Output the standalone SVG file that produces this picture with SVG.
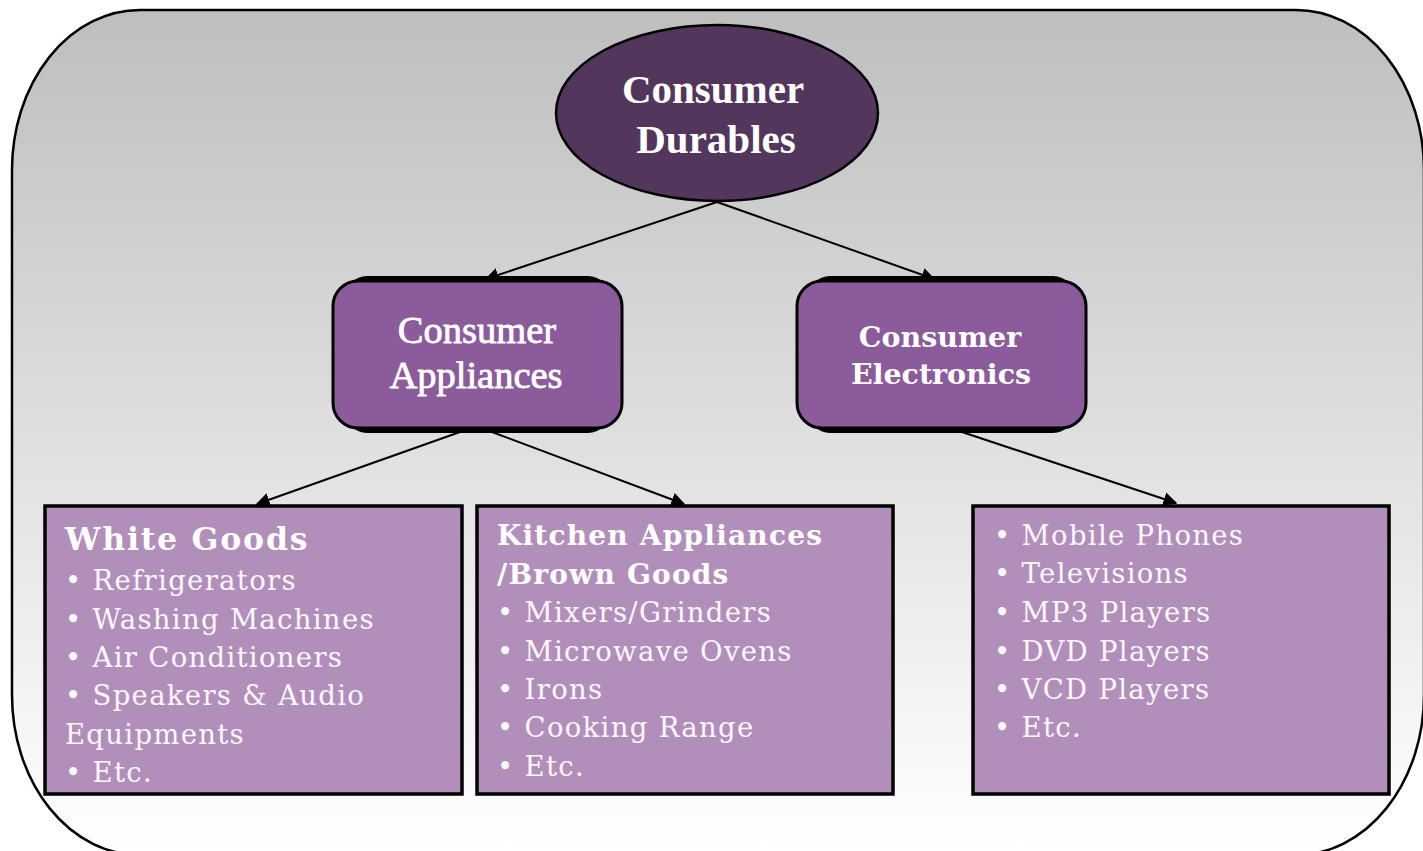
<svg xmlns="http://www.w3.org/2000/svg" width="1423" height="851" viewBox="0 0 1423 851">
<defs>
<linearGradient id="bg" gradientUnits="userSpaceOnUse" x1="0" y1="10" x2="0" y2="851">
<stop offset="0" stop-color="#bebebe"/>
<stop offset="1" stop-color="#ffffff"/>
</linearGradient>
<marker id="arr" viewBox="0 0 10 10" refX="9" refY="5" markerWidth="7" markerHeight="7" markerUnits="strokeWidth" orient="auto">
<path d="M0,0 L10,5 L0,10 z" fill="#000"/>
</marker>
<style>
.conn{stroke:#000;stroke-width:2;fill:none;marker-end:url(#arr)}
.mid{fill:#8c5b9b;stroke:#000;stroke-width:3}
.shadow{fill:#000}
.leaf{fill:#b28fbb;stroke:#000;stroke-width:3.5}
.t1{font-family:"Liberation Serif","Times New Roman",serif;font-weight:bold;font-size:41px;fill:#fff;text-anchor:middle}
.t2{font-family:"Liberation Serif","Times New Roman",serif;font-size:38.5px;fill:#fff;stroke:#fff;stroke-width:0.8px;text-anchor:middle}
.t3{font-family:"DejaVu Serif",serif;font-weight:bold;font-size:28.5px;fill:#fff;text-anchor:middle}
.hd{font-family:"DejaVu Serif",serif;font-weight:bold;fill:#fff}
.li{font-family:"DejaVu Serif",serif;font-size:27.5px;letter-spacing:1.3px;fill:#fbf8fc}
</style>
</defs>
<rect x="0" y="0" width="1423" height="851" fill="#fff"/>
<rect id="frame" x="12" y="10" width="1412" height="845" rx="128" ry="160" fill="url(#bg)" stroke="#000" stroke-width="2.5"/>

<g id="connectors">
<line class="conn" x1="717" y1="202" x2="486" y2="279"/>
<line class="conn" x1="717" y1="202" x2="934" y2="279"/>
<line class="conn" x1="460" y1="432" x2="257" y2="504"/>
<line class="conn" x1="492" y1="432" x2="684" y2="504"/>
<line class="conn" x1="962" y1="432" x2="1176" y2="503"/>
</g>

<g id="consumer-durables">
<ellipse cx="717" cy="113" rx="161" ry="88" fill="#52365b" stroke="#000" stroke-width="2.5"/>
<text class="t1" x="713" y="103">Consumer</text>
<text class="t1" x="716" y="153">Durables</text>
</g>

<g id="consumer-appliances">
<rect class="shadow" x="345" y="276" width="265" height="157" rx="22"/>
<rect class="mid" x="333" y="281" width="289" height="147" rx="25"/>
<text class="t2" x="477" y="343">Consumer</text>
<text class="t2" x="476" y="388">Appliances</text>
</g>

<g id="consumer-electronics">
<rect class="shadow" x="808" y="276" width="267" height="157" rx="22"/>
<rect class="mid" x="797" y="281" width="289" height="147" rx="25"/>
<text class="t3" x="940" y="347">Consumer</text>
<text class="t3" x="941" y="384">Electronics</text>
</g>

<g id="white-goods">
<rect class="leaf" x="45" y="506" width="417" height="288"/>
<text class="hd" x="65" y="550" font-size="31.5" letter-spacing="1.8">White Goods</text>
<text class="li" x="65" y="590">• Refrigerators</text>
<text class="li" x="65" y="629">• Washing Machines</text>
<text class="li" x="65" y="667">• Air Conditioners</text>
<text class="li" x="65" y="705">• Speakers &amp; Audio</text>
<text class="li" x="65" y="744">Equipments</text>
<text class="li" x="65" y="782">• Etc.</text>
</g>

<g id="kitchen-appliances">
<rect class="leaf" x="477" y="506" width="416" height="288"/>
<text class="hd" x="497" y="545" font-size="28" letter-spacing="1.2">Kitchen Appliances</text>
<text class="hd" x="497" y="584" font-size="28" letter-spacing="1.2">/Brown Goods</text>
<text class="li" x="497" y="622">• Mixers/Grinders</text>
<text class="li" x="497" y="661">• Microwave Ovens</text>
<text class="li" x="497" y="699">• Irons</text>
<text class="li" x="497" y="737">• Cooking Range</text>
<text class="li" x="497" y="776">• Etc.</text>
</g>

<g id="electronics-list">
<rect class="leaf" x="973" y="506" width="416" height="288"/>
<text class="li" x="994" y="545">• Mobile Phones</text>
<text class="li" x="994" y="583">• Televisions</text>
<text class="li" x="994" y="622">• MP3 Players</text>
<text class="li" x="994" y="661">• DVD Players</text>
<text class="li" x="994" y="699">• VCD Players</text>
<text class="li" x="994" y="737">• Etc.</text>
</g>
</svg>
